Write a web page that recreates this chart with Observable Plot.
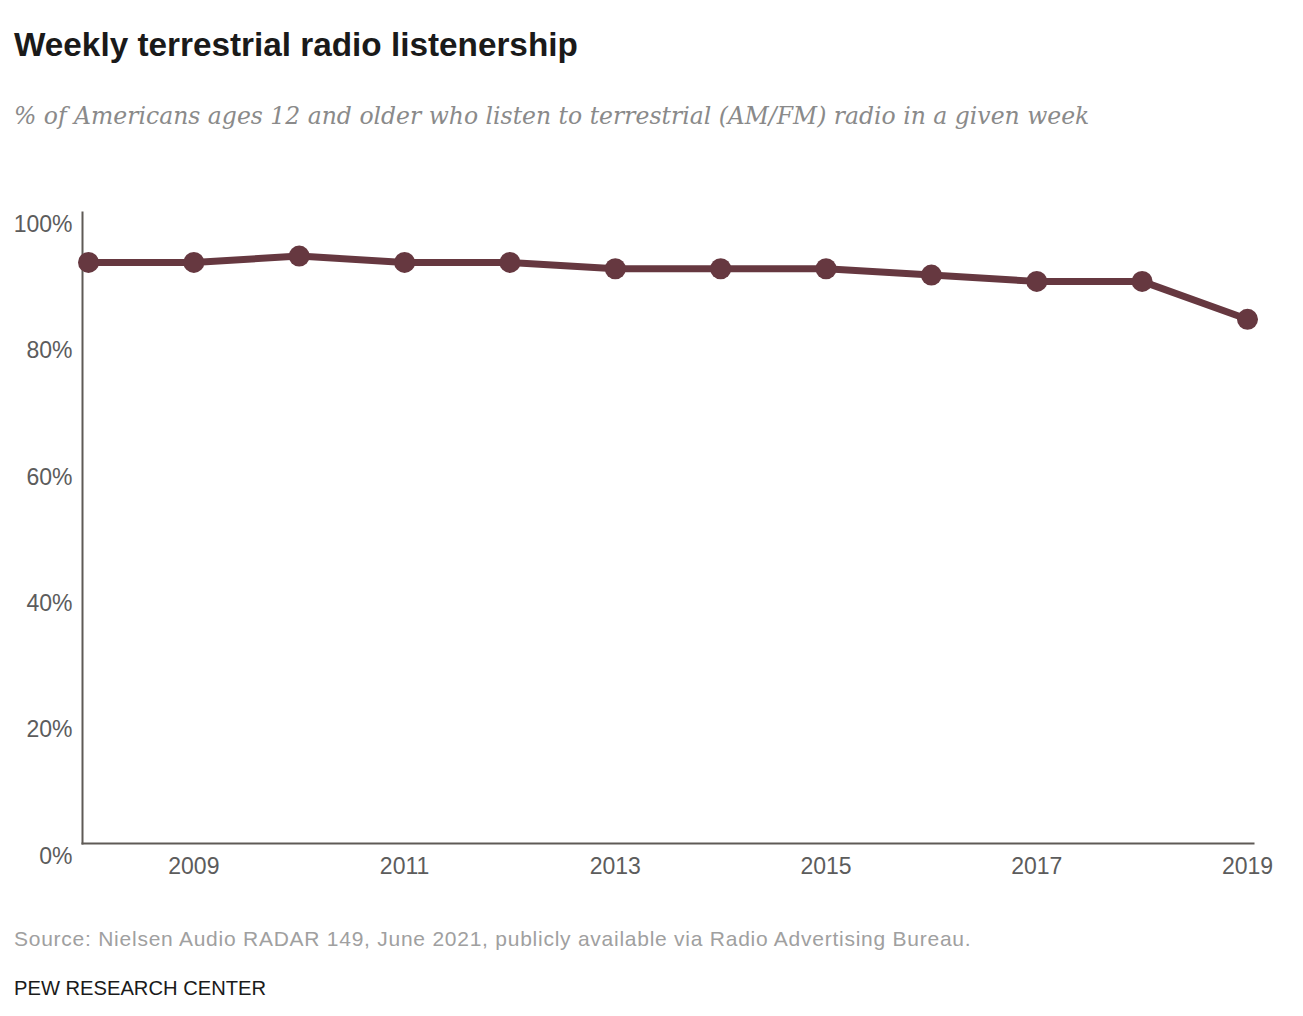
<!DOCTYPE html>
<html>
<head>
<meta charset="utf-8">
<script src="https://cdn.jsdelivr.net/npm/d3@7"></script>
<script src="https://cdn.jsdelivr.net/npm/@observablehq/plot@0.6"></script>
<style>
  html, body { margin: 0; padding: 0; background: #fff; }
  #page { position: relative; width: 1303px; height: 1016px; overflow: hidden; }
  .title { position: absolute; left: 14px; top: 26px; font-family: "Liberation Sans", Arial, sans-serif; font-weight: bold; font-size: 33.3px; color: #1a1a1a; white-space: nowrap; }
  .subtitle { position: absolute; left: 14px; top: 102px; font-family: "DejaVu Serif", "Liberation Serif", serif; font-style: italic; font-size: 23.5px; color: #8a8a8a; white-space: nowrap; }
  #chart { position: absolute; left: 0; top: 160px; }
  .source { position: absolute; left: 14px; top: 927px; font-family: "Liberation Sans", Arial, sans-serif; font-size: 21px; letter-spacing: 0.75px; color: #a0a0a0; white-space: nowrap; }
  .credit { position: absolute; left: 14px; top: 976px; font-family: "Liberation Sans", Arial, sans-serif; font-size: 21px; color: #1a1a1a; white-space: nowrap; transform: scaleX(0.96); transform-origin: left center; }
</style>
</head>
<body>
<div id="page">
  <div class="title">Weekly terrestrial radio listenership</div>
  <div class="subtitle">% of Americans ages 12 and older who listen to terrestrial (AM/FM) radio in a given week</div>
  <div id="chart"></div>
  <div class="source">Source: Nielsen Audio RADAR 149, June 2021, publicly available via Radio Advertising Bureau.</div>
  <div class="credit">PEW RESEARCH CENTER</div>
</div>
<script>
// Share of Americans 12+ who listen to AM/FM radio weekly
const years = [2008, 2009, 2010, 2011, 2012, 2013, 2014, 2015, 2016, 2017, 2018, 2019];
const listeners = [94, 94, 95, 94, 94, 93, 93, 93, 92, 91, 91, 85];
const xTicks = [2009, 2011, 2013, 2015, 2017, 2019];
const yTicks = [0, 20, 40, 60, 80, 100];

const data = years.map((year, i) => ({year, value: listeners[i]}));

const lineColor = "#663840";
const axisColor = "#5f5a56";
const labelColor = "#5c5c5c";

const chart = Plot.plot({
  width: 1303,
  height: 740,
  marginTop: 52,
  marginBottom: 57,
  marginLeft: 82,
  marginRight: 50,
  style: {fontFamily: "Liberation Sans, Arial, sans-serif", fontSize: "23px", color: labelColor, background: "transparent"},
  x: {domain: [2008, 2019], insetLeft: 6, insetRight: 6},
  y: {domain: [0, 100], range: [696, 64]},
  marks: [
    Plot.axisX({ticks: xTicks, tickFormat: d => String(d), tickSize: 0, tickPadding: 14, fontSize: 23, fill: labelColor, label: null}),
    Plot.axisY({ticks: yTicks, tickFormat: d => d + "%", tickSize: 0, tickPadding: 10, fontSize: 23, fill: labelColor, label: null}),
    Plot.frame({anchor: "left", stroke: axisColor, strokeWidth: 2}),
    Plot.frame({anchor: "bottom", stroke: axisColor, strokeWidth: 2}),
    Plot.line(data, {x: "year", y: "value", stroke: lineColor, strokeWidth: 7}),
    Plot.dot(data, {x: "year", y: "value", r: 10.5, fill: lineColor})
  ]
});
document.getElementById("chart").appendChild(chart);
</script>
</body>
</html>
